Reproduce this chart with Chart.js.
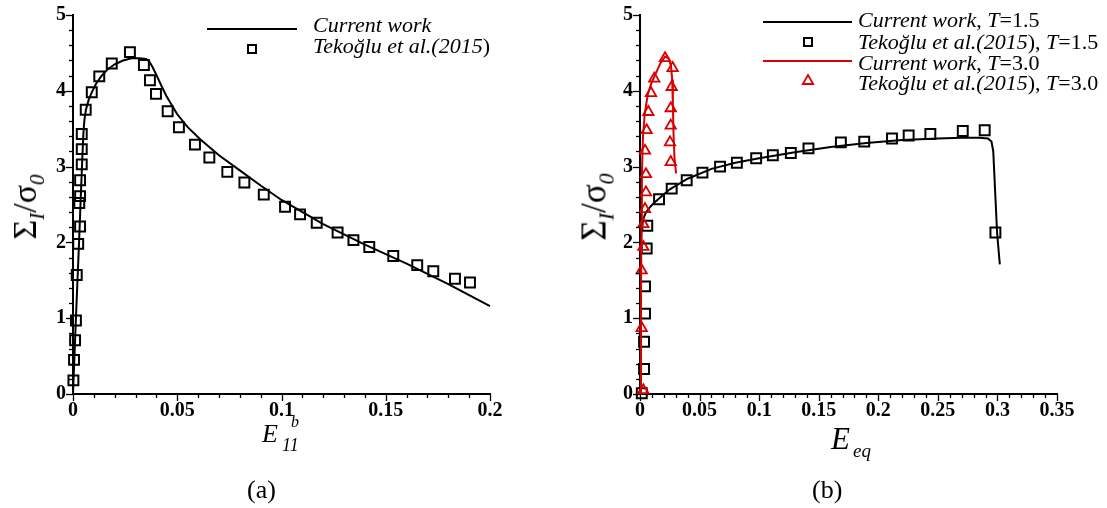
<!DOCTYPE html>
<html><head><meta charset="utf-8">
<script src="https://cdn.jsdelivr.net/npm/chart.js@4.4.1/dist/chart.umd.min.js"></script>
<style>
html,body{margin:0;padding:0;background:#fff;}
#wrap{position:relative;width:1107px;height:508px;overflow:hidden;font-family:'Liberation Serif','Times New Roman',serif;color:#000;}
canvas{position:absolute;top:0;}
.t{position:absolute;white-space:nowrap;line-height:1;}
.i{font-style:italic;}
.rot{position:absolute;white-space:nowrap;line-height:1;transform:translate(-50%,-50%) rotate(-90deg);}
.sym{position:absolute;}
</style></head>
<body>
<div id="wrap">
  <canvas id="cA" width="545" height="508" style="left:0;width:545px;height:508px"></canvas>
  <canvas id="cB" width="562" height="508" style="left:545px;width:562px;height:508px"></canvas>

  <!-- y titles -->
  <div class="rot" style="left:25px;top:207px;font-size:34px">Σ<span class="i" style="font-size:21px;position:relative;top:8px">I</span>/σ<span class="i" style="font-size:21px;position:relative;top:8px">0</span></div>
  <div class="rot" style="left:594px;top:207px;font-size:35px">Σ<span class="i" style="font-size:22px;position:relative;top:8px">I</span>/σ<span class="i" style="font-size:22px;position:relative;top:8px">0</span></div>

  <!-- x titles -->
  <div class="t i" style="left:262px;top:421px;font-size:26px">E</div>
  <div class="t i" style="left:282px;top:436px;font-size:18px">11</div>
  <div class="t i" style="left:291px;top:414px;font-size:16px">b</div>
  <div class="t" style="left:247px;top:477px;font-size:26px">(a)</div>

  <div class="t i" style="left:831px;top:423px;font-size:31px">E</div>
  <div class="t i" style="left:853px;top:441px;font-size:19px">eq</div>
  <div class="t" style="left:812px;top:477px;font-size:26px">(b)</div>

  <!-- legend A -->
  <div class="sym" style="left:207px;top:28px;width:90px;height:2px;background:#000"></div>
  <div class="sym" style="left:247px;top:44px;width:10px;height:10px;border:2px solid #000;box-sizing:border-box"></div>
  <div class="t i" style="left:313px;top:13.5px;font-size:22px">Current work</div>
  <div class="t" style="left:313px;top:34.5px;font-size:22px"><span class="i">Tekoğlu et al.(2015</span>)</div>

  <!-- legend B -->
  <div class="sym" style="left:763px;top:21px;width:89px;height:2px;background:#000"></div>
  <div class="sym" style="left:803px;top:37px;width:10px;height:10px;border:2px solid #000;box-sizing:border-box"></div>
  <div class="sym" style="left:763px;top:60px;width:89px;height:2px;background:#d90000"></div>
  <svg class="sym" style="left:801px;top:73px" width="14" height="14"><polygon points="7,2 12.2,11 1.8,11" fill="none" stroke="#d90000" stroke-width="1.8"/></svg>
  <div class="t" style="left:858px;top:8.5px;font-size:22px"><span class="i">Current work</span>, <span class="i">T</span>=1.5</div>
  <div class="t" style="left:858px;top:31px;font-size:22px"><span class="i">Tekoğlu et al.(2015</span>), <span class="i">T</span>=1.5</div>
  <div class="t" style="left:858px;top:51.5px;font-size:22px"><span class="i">Current work</span>, <span class="i">T</span>=3.0</div>
  <div class="t" style="left:858px;top:71.5px;font-size:22px"><span class="i">Tekoğlu et al.(2015</span>), <span class="i">T</span>=3.0</div>
</div>
<script>
// ---------- DATA ----------
// Panel (a): current work
const curA_x = [0, 0.0014, 0.0029, 0.0043, 0.0050, 0.0055, 0.0062, 0.0075, 0.0090, 0.0110, 0.0135, 0.0165, 0.0200, 0.0240, 0.0280, 0.0320, 0.0350, 0.0365, 0.0380, 0.0400, 0.0425, 0.0450, 0.0500, 0.0550, 0.0610, 0.0700, 0.0800, 0.0900, 0.1000, 0.1200, 0.1400, 0.1600, 0.1800, 0.2000];
const curA_y = [0, 1.0, 2.0, 3.0, 3.45, 3.62, 3.75, 3.88, 3.98, 4.09, 4.19, 4.28, 4.35, 4.40, 4.43, 4.43, 4.42, 4.39, 4.32, 4.21, 4.06, 3.92, 3.69, 3.52, 3.36, 3.15, 2.95, 2.75, 2.56, 2.24, 1.97, 1.72, 1.45, 1.16];
// Panel (a): Tekoglu et al. (2015)
const tekA_x = [0.0002, 0.0005, 0.0010, 0.0014, 0.0018, 0.0025, 0.0034, 0.0030, 0.0034, 0.0034, 0.0042, 0.0042, 0.0042, 0.0061, 0.0090, 0.0126, 0.0186, 0.0273, 0.0340, 0.0369, 0.0398, 0.0454, 0.0508, 0.0585, 0.0654, 0.0740, 0.0822, 0.0915, 0.1017, 0.1089, 0.1169, 0.1269, 0.1345, 0.1421, 0.1536, 0.1651, 0.1728, 0.1832, 0.1904];
const tekA_y = [0.18, 0.45, 0.71, 0.97, 1.57, 1.98, 2.21, 2.52, 2.61, 2.82, 3.03, 3.23, 3.43, 3.75, 3.98, 4.19, 4.36, 4.51, 4.34, 4.14, 3.96, 3.73, 3.52, 3.29, 3.12, 2.93, 2.79, 2.63, 2.47, 2.37, 2.26, 2.13, 2.03, 1.94, 1.82, 1.70, 1.62, 1.52, 1.47];
// Panel (b): current work, T=1.5
const cur15_x = [0, 0.0006, 0.0008, 0.0012, 0.0025, 0.0045, 0.0075, 0.0110, 0.0160, 0.0250, 0.0400, 0.0600, 0.0800, 0.1000, 0.1300, 0.1600, 0.1900, 0.2200, 0.2500, 0.2700, 0.2850, 0.2920, 0.2950, 0.2965, 0.2997, 0.3020];
const cur15_y = [0, 1.0, 1.8, 2.15, 2.30, 2.38, 2.45, 2.51, 2.58, 2.70, 2.84, 2.97, 3.05, 3.11, 3.19, 3.26, 3.31, 3.35, 3.37, 3.38, 3.38, 3.37, 3.33, 3.20, 2.13, 1.71];
// Panel (b): Tekoglu, T=1.5
const tek15_x = [0.0015, 0.0034, 0.0034, 0.0042, 0.0042, 0.0056, 0.0061, 0.0160, 0.0266, 0.0392, 0.0524, 0.0672, 0.0813, 0.0975, 0.1115, 0.1266, 0.1414, 0.1686, 0.1882, 0.2115, 0.2255, 0.2437, 0.2709, 0.2893, 0.2983];
const tek15_y = [0.01, 0.33, 0.69, 1.06, 1.42, 1.92, 2.22, 2.57, 2.71, 2.82, 2.92, 3.00, 3.05, 3.11, 3.15, 3.18, 3.24, 3.32, 3.33, 3.37, 3.41, 3.43, 3.47, 3.48, 2.13];
// Panel (b): current work, T=3.0
const cur30_x = [0, 0.0008, 0.0012, 0.0016, 0.0025, 0.0040, 0.0065, 0.0095, 0.0130, 0.0170, 0.0210, 0.0240, 0.0260, 0.0270, 0.0276, 0.0282, 0.0290, 0.0303];
const cur30_y = [0, 1.2, 2.2, 2.9, 3.4, 3.7, 3.95, 4.10, 4.22, 4.36, 4.45, 4.43, 4.33, 4.15, 3.80, 3.40, 3.10, 2.91];
// Panel (b): Tekoglu, T=3.0
const tek30_x = [0.0028, 0.0014, 0.0014, 0.0028, 0.0028, 0.0042, 0.0050, 0.0050, 0.0042, 0.0056, 0.0070, 0.0092, 0.0120, 0.0210, 0.0274, 0.0266, 0.0258, 0.0258, 0.0252, 0.0258];
const tek30_y = [0.05, 0.87, 1.63, 1.94, 2.24, 2.44, 2.66, 2.90, 3.21, 3.48, 3.72, 3.97, 4.16, 4.43, 4.30, 4.05, 3.77, 3.54, 3.32, 3.06];
// Tick labels
const yTicks = [0, 1, 2, 3, 4, 5];
const xTicksA = [0, 0.05, 0.1, 0.15, 0.2];
const xTicksB = [0, 0.05, 0.1, 0.15, 0.2, 0.25, 0.3, 0.35];

// ---------- helpers ----------
const pts = (xs, ys) => xs.map((x, i) => ({x, y: ys[i]}));
const RED = '#d90000';

const minorTicks = {
  id: 'minorTicks',
  afterDraw(chart, args, o) {
    const ctx = chart.ctx, xs = chart.scales.x, ys = chart.scales.y;
    ctx.save();
    ctx.strokeStyle = '#000';
    ctx.lineWidth = 1.3;
    const nx = Math.round((xs.max - xs.min) / o.xStep);
    for (let i = 0; i <= nx; i++) {
      const px = Math.round(xs.getPixelForValue(xs.min + i * o.xStep)) + 0.5;
      const len = (i % o.every === 0) ? o.major : o.minor;
      ctx.beginPath(); ctx.moveTo(px, ys.bottom); ctx.lineTo(px, ys.bottom + len); ctx.stroke();
    }
    const ny = Math.round((ys.max - ys.min) / o.yStep);
    for (let i = 0; i <= ny; i++) {
      const py = Math.round(ys.getPixelForValue(ys.min + i * o.yStep)) + 0.5;
      const len = (i % o.every === 0) ? o.major : o.minor;
      ctx.beginPath(); ctx.moveTo(xs.left, py); ctx.lineTo(xs.left - len, py); ctx.stroke();
    }
    ctx.restore();
  }
};

const tickFont = {family: "'Liberation Serif', 'Times New Roman', serif", weight: 'bold', size: 20};
const fmt = v => String(+Number(v).toFixed(2));

function makeChart(id, datasets, xMax, xTicks, yW, padR) {
  return new Chart(document.getElementById(id), {
    type: 'scatter',
    data: {datasets},
    plugins: [minorTicks],
    options: {
      responsive: false, animation: false, devicePixelRatio: 1,
      layout: {padding: {top: 15, right: padR, left: 0, bottom: 0}},
      plugins: {
        legend: {display: false}, tooltip: {enabled: false},
        minorTicks: {xStep: 0.01, yStep: 0.2, every: 5, major: 7, minor: 4}
      },
      scales: {
        x: {
          type: 'linear', min: 0, max: xMax,
          afterBuildTicks: s => { s.ticks = xTicks.map(v => ({value: v})); },
          afterFit: s => { s.height = 114; },
          grid: {drawOnChartArea: false, drawTicks: true, tickLength: 5, color: 'rgba(0,0,0,0)'},
          border: {display: true, color: '#000', width: 2},
          ticks: {font: tickFont, color: '#000', padding: 0, maxRotation: 0, autoSkip: false, callback: v => fmt(v)}
        },
        y: {
          type: 'linear', min: 0, max: 5,
          afterBuildTicks: s => { s.ticks = yTicks.map(v => ({value: v})); },
          afterFit: s => { s.width = yW; },
          grid: {drawOnChartArea: false, drawTicks: true, tickLength: 7, color: 'rgba(0,0,0,0)'},
          border: {display: true, color: '#000', width: 2},
          ticks: {font: tickFont, color: '#000', padding: 0, autoSkip: false, callback: v => fmt(v)}
        }
      }
    }
  });
}

const lineDs = (xs, ys, color) => ({data: pts(xs, ys), showLine: true, borderColor: color, borderWidth: 2, pointRadius: 0, tension: 0, clip: false});
const sqDs = (xs, ys) => ({data: pts(xs, ys), showLine: false, pointStyle: 'rect', pointRadius: 7, borderColor: '#000', backgroundColor: 'rgba(0,0,0,0)', borderWidth: 2, clip: false});
const triDs = (xs, ys) => ({data: pts(xs, ys), showLine: false, pointStyle: 'triangle', pointRadius: 6, borderColor: RED, backgroundColor: 'rgba(0,0,0,0)', borderWidth: 1.8, clip: false});

makeChart('cA', [
  sqDs(tekA_x, tekA_y),
  lineDs(curA_x, curA_y, '#000')
], 0.2, xTicksA, 73, 55);

makeChart('cB', [
  triDs(tek30_x, tek30_y),
  lineDs(cur30_x, cur30_y, RED),
  sqDs(tek15_x, tek15_y),
  lineDs(cur15_x, cur15_y, '#000')
], 0.35, xTicksB, 95, 50);
</script>
</body></html>
